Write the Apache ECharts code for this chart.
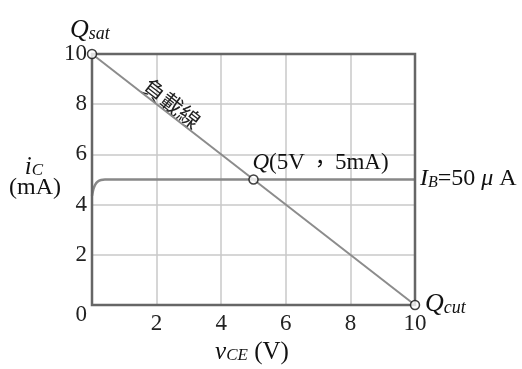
<!DOCTYPE html>
<html>
<head>
<meta charset="utf-8">
<script src="https://cdn.jsdelivr.net/npm/echarts@6/dist/echarts.min.js"></script>
<style>
  html, body { margin: 0; padding: 0; background: #fff; }
  #chart { width: 522px; height: 369px; }
</style>
</head>
<body>
<div id="chart"></div>
<script>
// axis ticks
const xTicks = [0, 2, 4, 6, 8, 10]
const yTicks = [0, 2, 4, 6, 8, 10]
// load line end points (Qsat -> Qcut)
const loadLine = [[0, 10], [10, 0]]
// IB = 50 uA characteristic curve
const curveVce = [0, 0.04, 0.1, 0.18, 0.28, 0.4, 0.55, 10]
const curveIc = [4.35, 4.6, 4.8, 4.92, 4.98, 5, 5, 5]
// operating points
const points = [[0, 10], [5, 5], [10, 0]]

const serif = '"Liberation Serif", "DejaVu Serif", serif'
const cjk = '"Noto Sans CJK TC", sans-serif'

const chart = echarts.init(document.getElementById('chart'))

const option = {
  animation: false,
  grid: {
    left: 92,
    right: 107,
    top: 54,
    bottom: 64,
    show: true,
    borderColor: '#666',
    borderWidth: 2.5,
    z: 3
  },
  xAxis: {
    type: 'value',
    min: xTicks[0],
    max: xTicks[xTicks.length - 1],
    interval: 2,
    axisLine: { show: false },
    axisTick: { show: false },
    splitLine: { lineStyle: { color: '#c8c8c8', width: 1.5 } },
    axisLabel: {
      margin: 7,
      color: '#222',
      fontFamily: serif,
      fontSize: 23,
      formatter: function (v) { return v === 0 ? '' : String(v) }
    }
  },
  yAxis: {
    type: 'value',
    min: yTicks[0],
    max: yTicks[yTicks.length - 1],
    interval: 2,
    axisLine: { show: false },
    axisTick: { show: false },
    splitLine: { lineStyle: { color: '#c8c8c8', width: 1.5 } },
    axisLabel: {
      margin: 5,
      color: '#222',
      fontFamily: serif,
      fontSize: 23,
      formatter: function (v) { return v === 0 ? '{z|0}' : String(v) },
      rich: {
        z: { fontFamily: serif, fontSize: 23, color: '#222', padding: [20, 0, 0, 0] }
      }
    }
  },
  series: [
    {
      type: 'line',
      data: curveVce.map((x, i) => [x, curveIc[i]]),
      smooth: 0.4,
      symbol: 'none',
      lineStyle: { color: '#888', width: 2.5 },
      z: 2
    },
    {
      type: 'line',
      data: loadLine,
      symbol: 'none',
      lineStyle: { color: '#8c8c8c', width: 2 },
      z: 2
    },
    {
      type: 'scatter',
      data: points,
      symbol: 'circle',
      symbolSize: 9,
      itemStyle: { color: '#fff', borderColor: '#111', borderWidth: 1.5 },
      z: 5
    }
  ]
}
chart.setOption(option)

const p = (x, y) => chart.convertToPixel({ gridIndex: 0 }, [x, y])
const qsat = p(0, 10)
const qcut = p(10, 0)
const q = p(5, 5)
const lbl = p(2.5, 7.5)

function sub (main, small, size, italicMain) {
  return {
    text: '{a|' + main + '}{b|' + small + '}',
    rich: {
      a: { fontFamily: serif, fontStyle: italicMain === false ? 'normal' : 'italic', fontSize: size, fill: '#111', verticalAlign: 'bottom' },
      b: { fontFamily: serif, fontStyle: 'italic', fontSize: Math.round(size * 0.68), fill: '#111', padding: [Math.round(size * 0.38), 0, 0, 0], verticalAlign: 'bottom' }
    }
  }
}

chart.setOption({
  graphic: [
    {
      type: 'text', x: qsat[0] - 22, y: qsat[1] - 39,
      style: sub('Q', 'sat', 26)
    },
    {
      type: 'text', x: qcut[0] + 10, y: qcut[1] - 16,
      style: sub('Q', 'cut', 26)
    },
    {
      type: 'text', x: q[0] - 1, y: q[1] - 28,
      style: {
        text: '{q|Q}{t|(5V}{c|，}{t|5mA)}',
        rich: {
          q: { fontFamily: serif, fontStyle: 'italic', fontSize: 23, fill: '#111' },
          t: { fontFamily: serif, fontSize: 23, fill: '#111' },
          c: { fontFamily: cjk, fontSize: 22, fill: '#111', padding: [0, 4, 0, 4] }
        }
      }
    },
    {
      type: 'text', x: qcut[0] + 5, y: q[1] - 13,
      style: {
        text: '{i|I}{b|B}{t|=50 }{m|μ}{t| A}',
        rich: {
          i: { fontFamily: serif, fontStyle: 'italic', fontSize: 24, fill: '#111', verticalAlign: 'bottom' },
          b: { fontFamily: serif, fontStyle: 'italic', fontSize: 16, fill: '#111', padding: [8, 0, 0, 0], verticalAlign: 'bottom' },
          t: { fontFamily: serif, fontSize: 24, fill: '#111', verticalAlign: 'bottom' },
          m: { fontFamily: serif, fontStyle: 'italic', fontSize: 24, fill: '#111', verticalAlign: 'bottom' }
        }
      }
    },
    {
      type: 'text', x: lbl[0] - 1, y: lbl[1] - 13, rotation: -0.66,
      style: { text: '負載線', fontFamily: cjk, fontSize: 22, fill: '#222', align: 'center', verticalAlign: 'middle' }
    },
    {
      type: 'text', x: 34, y: 166,
      style: Object.assign(sub('i', 'C', 25), { align: 'center', verticalAlign: 'middle' })
    },
    {
      type: 'text', x: 35, y: 188,
      style: { text: '(mA)', fontFamily: serif, fontSize: 24, fill: '#111', align: 'center', verticalAlign: 'middle' }
    },
    {
      type: 'text', x: 252, y: 352,
      style: {
        text: '{v|v}{c|CE}{u| (V)}', align: 'center', verticalAlign: 'middle',
        rich: {
          v: { fontFamily: serif, fontStyle: 'italic', fontSize: 25, fill: '#111', verticalAlign: 'bottom' },
          c: { fontFamily: serif, fontStyle: 'italic', fontSize: 17, fill: '#111', padding: [8, 0, 0, 0], verticalAlign: 'bottom' },
          u: { fontFamily: serif, fontSize: 25, fill: '#111', verticalAlign: 'bottom' }
        }
      }
    }
  ]
})
</script>
</body>
</html>
